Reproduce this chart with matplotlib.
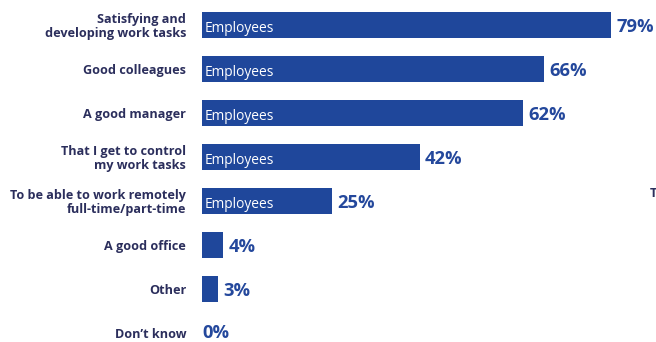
import matplotlib
matplotlib.use("Agg")
import matplotlib.pyplot as plt
import matplotlib.transforms as mtransforms

plt.rcParams['font.family'] = ['Open Sans', 'DejaVu Sans']

categories = [
    "Satisfying and\ndeveloping work tasks",
    "Good colleagues",
    "A good manager",
    "That I get to control\nmy work tasks",
    "To be able to work remotely\nfull-time/part-time",
    "A good office",
    "Other",
    "Don\u2019t know",
]
values = [79, 66, 62, 42, 25, 4, 3, 0]
bar_label = "Employees"
show_bar_label = [True, True, True, True, True, False, False, False]

BAR_COLOR = "#1f479b"
VALUE_COLOR = "#24489c"
LABEL_COLOR = "#2b2e5c"

W, H, DPI = 656, 342, 100
fig = plt.figure(figsize=(W / DPI, H / DPI), dpi=DPI)

x0_px = 202
px_per_unit = 5.18
ax = fig.add_axes([x0_px / W, 0, (W - x0_px) / W, 1])
ax.set_xlim(0, (W - x0_px) / px_per_unit)
row_px = 44.0
first_px = 25.0
ax.set_ylim(-first_px / row_px + (H / row_px), -first_px / row_px)

ypos = list(range(len(categories)))
ax.barh(ypos, values, height=0.59, color=BAR_COLOR, edgecolor="none")

for spine in ax.spines.values():
    spine.set_visible(False)
ax.set_xticks([])
ax.set_yticks(ypos)
ax.set_yticklabels(categories, fontsize=9.1, fontweight="bold", color=LABEL_COLOR,
                   linespacing=1.0)
ax.tick_params(axis="y", length=0, pad=11.5)

last = len(ypos) - 1
for y, v, show in zip(ypos, values, show_bar_label):
    # keep the bottom row's label inside the figure edge
    dy = 2.5 if y == last else 0
    off = mtransforms.offset_copy(ax.transData, fig=fig, x=(5.5 if v > 0 else 0) * 72 / DPI,
                                  y=dy * 72 / DPI, units="points")
    ax.text(v, y, f"{v}%", transform=off, ha="left", va="center_baseline",
            fontsize=13.2, fontweight="bold", color=VALUE_COLOR)
    if show:
        inner = mtransforms.offset_copy(ax.transData, fig=fig, x=3 * 72 / DPI,
                                        y=-1 * 72 / DPI, units="points")
        ax.text(0, y, bar_label, transform=inner, ha="left", va="center_baseline",
                fontsize=9.9, color="white")

fig.text(650 / W, 1 - 193 / H, "T", ha="left", va="center", fontsize=9.1,
         fontweight="bold", color=LABEL_COLOR)

fig.savefig("out.png", dpi=DPI)
